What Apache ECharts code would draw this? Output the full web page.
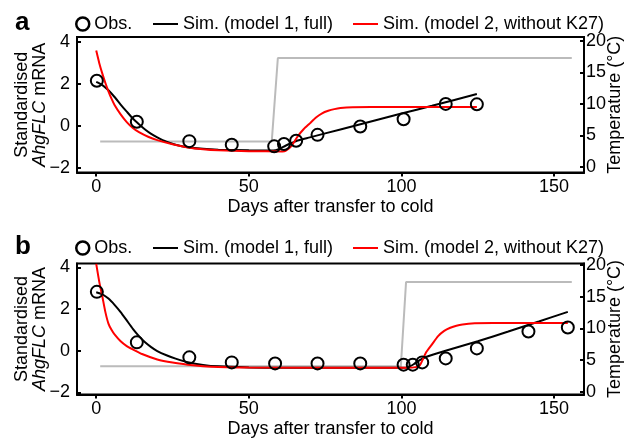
<!DOCTYPE html>
<html><head><meta charset="utf-8">
<script src="https://cdn.jsdelivr.net/npm/echarts@6/dist/echarts.min.js"></script>
<style>html,body{margin:0;padding:0;background:#fff}#c{width:627px;height:442px}</style>
</head><body><div id="c"></div>
<script>
// ---------- data ----------
const xTicks = [0, 50, 100, 150];
const yTicks = [-2, 0, 2, 4];
const tTicks = [0, 5, 10, 15, 20];

// Panel a
const obsDaysA = [0.2, 13.3, 30.5, 44.4, 58.3, 61.5, 65.5, 72.5, 86.5, 100.7, 114.5, 124.7];
const obsA     = [2.16, 0.2, -0.73, -0.9, -0.98, -0.87, -0.71, -0.43, -0.03, 0.32, 1.05, 1.03];
const sim1DaysA = [0, 2, 4, 6, 8, 10, 12, 14, 16, 18, 20, 23, 26, 30, 35, 40, 50, 58, 60, 62, 64, 66, 70, 80, 90, 100, 110, 124.7];
const sim1A     = [2.1, 1.95, 1.7, 1.38, 1.02, 0.68, 0.35, 0.08, -0.17, -0.38, -0.55, -0.76, -0.9, -1.02, -1.1, -1.14, -1.17, -1.18, -1.1, -0.95, -0.82, -0.7, -0.55, -0.17, 0.21, 0.59, 0.96, 1.52];
const sim2DaysA = [0, 1, 2, 3, 4, 5, 6, 8, 10, 12, 14, 17, 20, 25, 30, 35, 40, 50, 61, 62, 64, 66, 68, 70, 72, 74, 76, 78, 80, 84, 90, 100, 124.7];
const sim2A     = [3.6, 3.0, 2.5, 2.05, 1.65, 1.3, 1.0, 0.55, 0.18, -0.1, -0.3, -0.52, -0.68, -0.88, -1.03, -1.12, -1.17, -1.21, -1.22, -1.2, -0.95, -0.5, -0.15, 0.12, 0.4, 0.6, 0.72, 0.8, 0.85, 0.89, 0.9, 0.9, 0.9];
const tempDaysA = [1.3, 57.5, 59.5, 155.8];
const tempA     = [4, 4, 17.3, 17.3];

// Panel b
const obsDaysB = [0.2, 13.3, 30.5, 44.4, 58.6, 72.5, 86.5, 100.7, 103.7, 106.8, 114.5, 124.7, 141.6, 154.5];
const obsB     = [2.82, 0.4, -0.32, -0.56, -0.61, -0.61, -0.61, -0.67, -0.67, -0.56, -0.37, 0.11, 0.92, 1.11];
const sim1DaysB = [0, 2, 4, 6, 8, 10, 12, 14, 16, 18, 20, 23, 26, 30, 35, 40, 50, 60, 100, 102, 104, 106, 108, 115, 125, 135, 145, 154.5];
const sim1B     = [2.8, 2.7, 2.5, 2.2, 1.85, 1.45, 1.05, 0.7, 0.4, 0.17, -0.02, -0.22, -0.38, -0.55, -0.68, -0.75, -0.8, -0.82, -0.82, -0.8, -0.65, -0.45, -0.3, 0.02, 0.45, 0.92, 1.4, 1.86];
const sim2DaysB = [0, 1, 2, 3, 4, 5, 6, 8, 10, 12, 15, 20, 25, 30, 35, 40, 50, 100, 104, 106, 108, 110, 112, 114, 116, 118, 120, 124, 130, 154.5];
const sim2B     = [4.16, 3.3, 2.6, 1.85, 1.3, 1.0, 0.78, 0.45, 0.22, 0.06, -0.16, -0.42, -0.57, -0.67, -0.74, -0.78, -0.81, -0.82, -0.8, -0.7, -0.1, 0.3, 0.7, 0.95, 1.1, 1.2, 1.26, 1.31, 1.33, 1.33];
const tempDaysB = [1.3, 99.8, 101.5, 155.8];
const tempB     = [4, 4, 17.3, 17.3];

// ---------- chart ----------
const FONT = 'Liberation Sans, Arial, Helvetica, sans-serif';
const FS = 18;
const pair = (xs, ys) => xs.map((x, i) => [x, ys[i]]);
const NAME_OBS = 'Obs.';
const NAME_S1 = 'Sim. (model 1, full)';
const NAME_S2 = 'Sim. (model 2, without K27)';

const grids = [
  {left: 77, right: 43, top: 37, height: 135.5},
  {left: 77, right: 43, top: 263.5, height: 131}
];
const yRanges = [{min: -2.23, max: 4.25}, {min: -2.1, max: 4.18}];
const tRanges = [{min: -0.92, max: 20.64}, {min: -0.44, max: 20.24}];

const xAxes = [0, 1].map(i => ({
  type: 'value', gridIndex: i, min: -6.3, max: 159.8,
  name: 'Days after transfer to cold', nameLocation: 'middle', nameGap: 26, nameMoveOverlap: false,
  nameTextStyle: {fontSize: FS, color: '#000', fontFamily: FONT},
  axisLine: {show: true, onZero: false, lineStyle: {color: '#000', width: 2}},
  axisTick: {show: true, inside: false, length: 4, lineStyle: {color: '#000', width: 2}, customValues: xTicks},
  axisLabel: {fontSize: FS, color: '#000', fontFamily: FONT, margin: 6, customValues: xTicks},
  splitLine: {show: false}
}));

const yAxes = [];
[0, 1].forEach(i => {
  yAxes.push({
    type: 'value', gridIndex: i, position: 'left', min: yRanges[i].min, max: yRanges[i].max,
    name: '{n|Standardised}\n{i|AhgFLC}{n| mRNA}', nameLocation: 'middle', nameRotate: 90, nameGap: 28,
    nameMoveOverlap: false,
    nameTextStyle: {align: 'center', lineHeight: 18,
      rich: {n: {fontSize: FS, color: '#000', fontFamily: FONT, lineHeight: 18},
             i: {fontSize: FS, color: '#000', fontFamily: FONT, fontStyle: 'italic', lineHeight: 18}}},
    axisLine: {show: true, onZero: false, lineStyle: {color: '#000', width: 2}},
    axisTick: {show: true, inside: true, length: 4, lineStyle: {color: '#000', width: 2}, customValues: yTicks},
    axisLabel: {fontSize: FS, color: '#000', fontFamily: FONT, margin: 7, customValues: yTicks,
      formatter: v => (v < 0 ? '\u2212' + Math.abs(v) : String(v))},
    splitLine: {show: false}
  });
  yAxes.push({
    type: 'value', gridIndex: i, position: 'right', min: tRanges[i].min, max: tRanges[i].max,
    name: 'Temperature (°C)', nameLocation: 'middle', nameRotate: 90, nameGap: 22, nameMoveOverlap: false,
    nameTextStyle: {fontSize: FS, color: '#000', fontFamily: FONT},
    axisLine: {show: true, onZero: false, lineStyle: {color: '#000', width: 2}},
    axisTick: {show: true, inside: true, length: 4, lineStyle: {color: '#000', width: 2}, customValues: tTicks},
    axisLabel: {fontSize: FS, color: '#000', fontFamily: FONT, margin: 2, customValues: tTicks},
    splitLine: {show: false}
  });
});

function lineSeries(name, data, color, xi, yi, z) {
  return {name, type: 'line', xAxisIndex: xi, yAxisIndex: yi, data, symbol: 'none', smooth: 0.2,
    lineStyle: {color, width: 2}, itemStyle: {color}, z, animation: false};
}
function obsSeries(data, xi, yi) {
  return {name: NAME_OBS, type: 'scatter', xAxisIndex: xi, yAxisIndex: yi, data, symbol: 'circle', symbolSize: 12,
    itemStyle: {color: 'rgba(0,0,0,0)', borderColor: '#000', borderWidth: 2, opacity: 1}, z: 10, animation: false};
}
function tempSeries(data, xi, yi) {
  return {name: 'Temperature', type: 'line', xAxisIndex: xi, yAxisIndex: yi, data, symbol: 'none',
    lineStyle: {color: '#bbbbbb', width: 2}, z: 1, animation: false};
}

const series = [
  tempSeries(pair(tempDaysA, tempA), 0, 1),
  lineSeries(NAME_S1, pair(sim1DaysA, sim1A), '#000000', 0, 0, 3),
  lineSeries(NAME_S2, pair(sim2DaysA, sim2A), '#ff0000', 0, 0, 4),
  obsSeries(pair(obsDaysA, obsA), 0, 0),
  tempSeries(pair(tempDaysB, tempB), 1, 3),
  lineSeries(NAME_S1, pair(sim1DaysB, sim1B), '#000000', 1, 2, 3),
  lineSeries(NAME_S2, pair(sim2DaysB, sim2B), '#ff0000', 1, 2, 4),
  obsSeries(pair(obsDaysB, obsB), 1, 2)
];

const legTop = [15, 239];
const legends = [];
const ts = {fontSize: FS, color: '#000', fontFamily: FONT};
legTop.forEach(t => {
  legends.push({top: t, left: 75, padding: 0, itemWidth: 13, itemHeight: 13, itemGap: 0, selectedMode: false,
    textStyle: ts, data: [{name: NAME_OBS, icon: 'circle',
      itemStyle: {color: 'rgba(0,0,0,0)', borderColor: '#000', borderWidth: 2.5}}]});
  legends.push({top: t, left: 153, padding: 0, itemWidth: 25, itemHeight: 2, itemGap: 0, selectedMode: false,
    textStyle: ts, data: [{name: NAME_S1, icon: 'rect'}]});
  legends.push({top: t, left: 353, padding: 0, itemWidth: 25, itemHeight: 2, itemGap: 0, selectedMode: false,
    textStyle: ts, data: [{name: NAME_S2, icon: 'rect'}]});
});

const chart = echarts.init(document.getElementById('c'), null, {renderer: 'canvas'});
chart.setOption({
  animation: false,
  backgroundColor: '#fff',
  title: [
    {text: 'a', left: 10, top: 5, textStyle: {fontSize: 26, fontWeight: 'bold', color: '#000', fontFamily: FONT}},
    {text: 'b', left: 10, top: 229, textStyle: {fontSize: 26, fontWeight: 'bold', color: '#000', fontFamily: FONT}}
  ],
  legend: legends,
  grid: grids.map(g => Object.assign({show: true, borderColor: '#000', borderWidth: 2, backgroundColor: 'transparent',
    outerBoundsMode: 'none', containLabel: false}, g)),
  xAxis: xAxes,
  yAxis: yAxes,
  series
});
</script>
</body></html>
